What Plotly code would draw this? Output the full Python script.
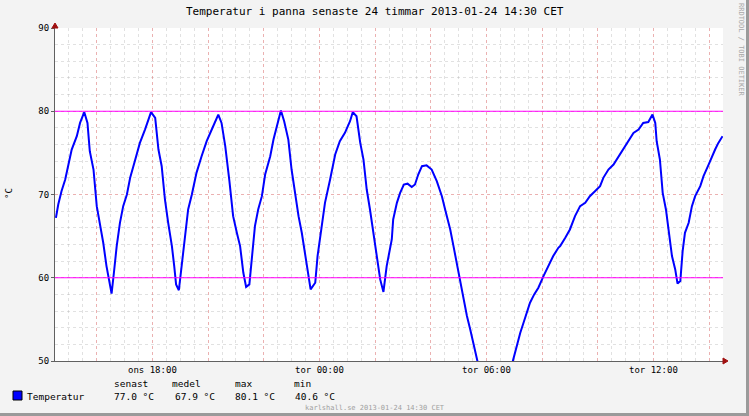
import pandas as pd
import plotly.graph_objects as go

# ---- data ----
start_time = "2013-01-23 14:30"
end_time = "2013-01-24 14:30"
minutes = [2, 7, 14, 22, 29, 36, 47, 54, 63, 70, 75, 83, 90, 97, 104, 111, 117, 122,
           127, 133, 140, 147, 155, 162, 172, 183, 194, 201, 207, 216, 223, 230, 237,
           244, 252, 257, 261, 267, 272, 280, 287, 295, 305, 316, 327, 341, 352, 359,
           367, 376, 384, 392, 399, 406, 412, 419, 424, 431, 438, 446, 453, 464, 471,
           479, 487, 494, 503, 510, 517, 525, 532, 539, 546, 551, 561, 566, 575, 582,
           593, 604, 614, 625, 636, 642, 650, 658, 665, 672, 679, 686, 694, 701, 708,
           715, 726, 729, 737, 744, 752, 760, 769, 776, 783, 791, 801, 812, 823, 834,
           841, 852, 859, 866, 873, 880, 888, 895, 902, 910, 927, 942, 953, 966, 977,
           987, 995, 1003, 1010, 1017, 1024, 1033, 1042, 1053, 1064, 1074, 1085, 1089,
           1100, 1110, 1121, 1132, 1143, 1153, 1164, 1175, 1182, 1193, 1204, 1215, 1225,
           1236, 1247, 1258, 1268, 1279, 1288, 1294, 1297, 1304, 1310, 1317, 1322, 1330,
           1337, 1342, 1348, 1353, 1358, 1366, 1373, 1380, 1391, 1398, 1409, 1416, 1423,
           1430, 1439]
temperature = [67.2, 68.8, 70.4, 71.8, 73.6, 75.4, 77.0, 78.6, 79.9, 78.6, 75.2, 73.0,
               68.6, 66.4, 64.2, 61.4, 59.4, 58.1, 60.6, 63.8, 66.6, 68.6, 70.0, 72.0,
               74.0, 76.2, 77.8, 79.0, 79.9, 79.2, 75.4, 73.4, 69.4, 66.6, 63.8, 61.4,
               59.2, 58.5, 61.0, 65.4, 68.2, 70.0, 72.6, 74.6, 76.4, 78.2, 79.6, 78.6,
               75.8, 71.6, 67.4, 65.4, 63.8, 60.6, 58.9, 59.2, 62.2, 66.2, 68.2, 69.8,
               72.4, 74.6, 76.6, 78.2, 80.1, 78.8, 76.6, 73.0, 70.2, 67.4, 65.4, 63.0,
               60.6, 58.6, 59.4, 62.6, 66.2, 69.0, 71.8, 74.8, 76.4, 77.4, 78.8, 79.9,
               79.4, 76.2, 74.2, 70.6, 68.2, 65.4, 62.6, 59.8, 58.3, 61.4, 64.6, 67.0,
               69.0, 70.2, 71.2, 71.3, 70.9, 71.2, 72.4, 73.4, 73.5, 73.0, 71.6, 69.8,
               68.2, 65.8, 63.8, 61.8, 59.8, 57.4, 55.4, 53.8, 52.2, 50.0, 46.0, 41.8,
               40.6, 42.5, 46.0, 50.0, 51.8, 53.4, 54.6, 55.8, 57.0, 58.0, 58.8, 60.2,
               61.4, 62.6, 63.6, 63.8, 64.8, 65.8, 67.4, 68.6, 69.0, 69.8, 70.4, 71.0,
               72.0, 73.0, 73.6, 74.6, 75.4, 76.4, 77.4, 77.8, 78.6, 78.7, 79.6, 78.6,
               76.4, 74.2, 70.2, 68.2, 66.2, 62.6, 61.0, 59.3, 59.6, 63.2, 65.4, 66.6,
               68.6, 69.8, 71.0, 72.2, 73.6, 74.6, 75.4, 76.2, 77.0]
hrules = [80, 60]
x_tick_times = ["2013-01-23 16:00", "2013-01-23 18:00", "2013-01-23 20:00", "2013-01-23 22:00",
                "2013-01-24 00:00", "2013-01-24 02:00", "2013-01-24 04:00", "2013-01-24 06:00",
                "2013-01-24 08:00", "2013-01-24 10:00", "2013-01-24 12:00", "2013-01-24 14:00"]
x_tick_labels = ["", "ons 18:00", "", "", "tor 00:00", "", "", "tor 06:00", "", "", "tor 12:00", ""]
y_ticks = [50, 60, 70, 80, 90]
title_text = "Temperatur i panna senaste 24 timmar 2013-01-24 14:30 CET"
legend_heads = ["senast", "medel", "max", "min"]
legend_values = ["77.0 °C", "67.9 °C", "80.1 °C", "40.6 °C"]

times = pd.Timestamp(start_time) + pd.to_timedelta(minutes, unit="min")

W, H = 749, 416
L, R, T, B = 55, 723, 28, 361
MONO = "DejaVu Sans Mono"


def px(x):
    return (x - L) / (R - L)


def py(y):
    return (B - y) / (B - T)


fig = go.Figure()
fig.add_trace(go.Scatter(x=times, y=temperature, mode="lines",
                         line=dict(color="#0000FF", width=2), hoverinfo="skip",
                         showlegend=False, cliponaxis=True))

for v in hrules:
    fig.add_hline(y=v, line=dict(color="#FF00FF", width=1), layer="above")

grid_minor = "rgba(170,170,170,0.35)"
grid_major = "rgba(255,90,90,0.35)"

fig.update_xaxes(
    range=[pd.Timestamp(start_time), pd.Timestamp(end_time)],
    tickmode="array", tickvals=pd.to_datetime(x_tick_times), ticktext=x_tick_labels,
    showgrid=True, gridcolor=grid_major, griddash="dot", gridwidth=1,
    minor=dict(dtick=30 * 60 * 1000, tick0=start_time, showgrid=True, gridcolor=grid_minor,
               griddash="dot", ticks="", gridwidth=1),
    showline=True, linecolor="#606060", linewidth=1,
    ticks="", tickfont=dict(family=MONO, size=9, color="#000000"),
    zeroline=False, fixedrange=True,
)
fig.update_yaxes(
    range=[50, 90], tickmode="array", tickvals=y_ticks,
    showgrid=True, gridcolor=grid_major, griddash="dot", gridwidth=1,
    minor=dict(dtick=2, showgrid=True, gridcolor=grid_minor, griddash="dot", ticks=""),
    showline=True, linecolor="#606060", linewidth=1,
    ticks="outside", ticklen=3, tickcolor="#606060",
    tickfont=dict(family=MONO, size=9, color="#000000"),
    zeroline=False, fixedrange=True,
)

shapes = []
# outer frame (3D look)
shapes.append(dict(type="line", xref="paper", yref="paper", x0=px(0.5), x1=px(W - 0.5), y0=py(0.5), y1=py(0.5),
                   line=dict(color="#FFFFFF", width=1)))
shapes.append(dict(type="line", xref="paper", yref="paper", x0=px(0.5), x1=px(0.5), y0=py(0.5), y1=py(H - 0.5),
                   line=dict(color="#FFFFFF", width=1)))
shapes.append(dict(type="line", xref="paper", yref="paper", x0=px(W - 1.5), x1=px(W - 1.5), y0=py(0), y1=py(H),
                   line=dict(color="#9A9A9A", width=3)))
shapes.append(dict(type="line", xref="paper", yref="paper", x0=px(0), x1=px(W), y0=py(H - 1.5), y1=py(H - 1.5),
                   line=dict(color="#9A9A9A", width=3)))
# axis arrows
shapes.append(dict(type="path", xref="paper", yref="paper",
                   path=f"M {px(R)} {py(B - 3)} L {px(R + 5)} {py(B)} L {px(R)} {py(B + 3)} Z",
                   fillcolor="#A01010", line=dict(color="#A01010", width=1)))
shapes.append(dict(type="path", xref="paper", yref="paper",
                   path=f"M {px(L - 3)} {py(T)} L {px(L)} {py(T - 5)} L {px(L + 3)} {py(T)} Z",
                   fillcolor="#A01010", line=dict(color="#A01010", width=1)))
# legend swatch
shapes.append(dict(type="rect", xref="paper", yref="paper", x0=px(13), x1=px(22), y0=py(400), y1=py(391),
                   fillcolor="#0000FF", line=dict(color="#000000", width=1)))
fig.update_layout(shapes=shapes)

ann = []
ann.append(dict(text=title_text, x=px(375), y=py(12), xref="paper", yref="paper", showarrow=False,
                font=dict(family=MONO, size=11, color="#000000"), xanchor="center", yanchor="middle"))
ann.append(dict(text="°C", x=px(9), y=py(194), xref="paper", yref="paper", showarrow=False, textangle=-90,
                font=dict(family=MONO, size=9, color="#000000"), xanchor="center", yanchor="middle"))
ann.append(dict(text="RRDTOOL / TOBI OETIKER", x=px(741), y=py(50), xref="paper", yref="paper",
                showarrow=False, textangle=90,
                font=dict(family=MONO, size=7, color="#A8A8A8"), xanchor="center", yanchor="middle"))
ann.append(dict(text="Temperatur", x=px(25), y=py(396), xref="paper", yref="paper", showarrow=False,
                font=dict(family=MONO, size=9.5, color="#000000"), xanchor="left", yanchor="middle"))
head_x = [112, 170, 233, 292]
val_x = [112, 173, 233, 293]
for hx, h in zip(head_x, legend_heads):
    ann.append(dict(text=h, x=px(hx), y=py(383), xref="paper", yref="paper", showarrow=False,
                    font=dict(family=MONO, size=9.5, color="#000000"), xanchor="left", yanchor="middle"))
for vx, v in zip(val_x, legend_values):
    ann.append(dict(text=v, x=px(vx), y=py(396), xref="paper", yref="paper", showarrow=False,
                    font=dict(family=MONO, size=9.5, color="#000000"), xanchor="left", yanchor="middle"))
ann.append(dict(text="karlshall.se 2013-01-24 14:30 CET", x=px(375), y=py(408), xref="paper", yref="paper",
                showarrow=False, font=dict(family=MONO, size=7, color="#A0A0A0"),
                xanchor="center", yanchor="middle"))
fig.update_layout(annotations=ann)

fig.update_layout(
    width=W, height=H, autosize=False,
    margin=dict(l=L, r=W - R, t=T, b=H - B, pad=0),
    paper_bgcolor="#F3F3F3", plot_bgcolor="#FFFFFF",
    showlegend=False,
)

fig.write_html("out.html", config={"displayModeBar": False},
               post_script="document.body.style.margin='0px';document.body.style.overflow='hidden';")
